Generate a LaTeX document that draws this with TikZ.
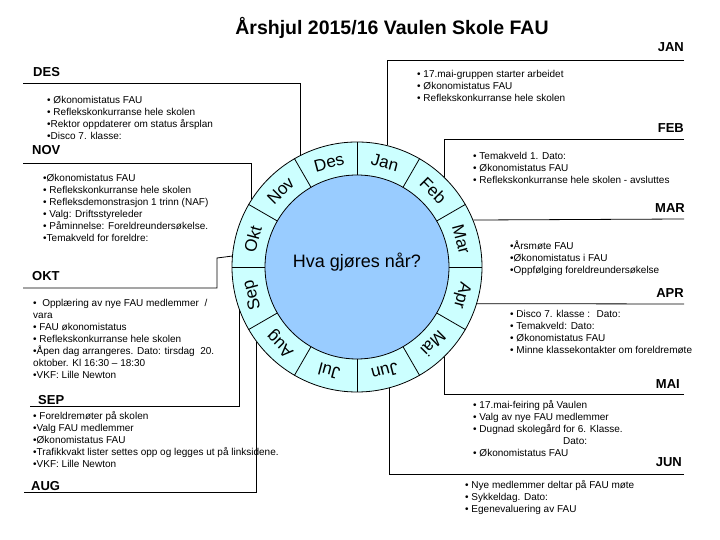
\documentclass[tikz,border=0pt]{standalone}
\usepackage{fontspec}
\setmainfont{Liberation Sans}
\usetikzlibrary{calc}
\definecolor{ring}{HTML}{CCFFFF}
\definecolor{hub}{HTML}{99CCFF}
\begin{document}
\begin{tikzpicture}[x=1pt, y=1pt,
  head/.style={inner sep=0pt, font=\fontsize{13}{13}\selectfont\bfseries},
  items/.style={inner sep=0pt, align=left, anchor=north west, font=\fontsize{10}{12}\selectfont},
  month/.style={inner sep=0pt, font=\fontsize{17}{17}\selectfont},
  link/.style={line width=0.8pt}]
\useasboundingbox (0,0) rectangle (720,540);
\node[anchor=base, font=\fontsize{19.5}{20}\selectfont\bfseries] (title) at (392,505) {Årshjul 2015/16 Vaulen Skole FAU};

% the wheel
\node[circle, draw, line width=0.8pt, fill=ring, minimum size=250, inner sep=0pt] (wheel) at (357,273) {};
\node[circle, draw, line width=0.8pt, fill=hub, minimum size=184, inner sep=0pt] (hub) at (wheel.center) {};
\foreach \a in {0,30,...,330}
  \draw[link] (hub.\a) -- (wheel.\a);
\foreach \m [count=\i] in {Jan,Feb,Mar,Apr,Mai,Jun,Jul,Aug,Sep,Okt,Nov,Des} {
  \pgfmathsetmacro\ang{105-30*\i}
  \pgfmathsetmacro\rot{\ang-90}
  \node[month, rotate=\rot] (m\i) at ($(wheel.center)+(\ang:108)$) {\m};
}
\node[font=\fontsize{18}{18}\selectfont] (q) at ([yshift=5]wheel.center) {Hva gjøres når?};

% left side
\node[head, anchor=base west] (des) at (33,463) {DES};
\coordinate (des-a) at (23,457);
\draw[link] (des-a) -| (wheel.117.1);
\node[items] (des-t) at (47,443.5) {• Økonomistatus FAU\\• Reflekskonkurranse hele skolen\\•Rektor oppdaterer om status årsplan\\•Disco 7. klasse:};

\node[head, anchor=base west] (nov) at (32,385) {NOV};
\coordinate (nov-a) at (23,377);
\draw[link] (nov-a) -| (wheel.147.1);
\node[items] (nov-t) at (43,365.5) {•Økonomistatus FAU\\• Reflekskonkurranse hele skolen\\• Refleksdemonstrasjon 1 trinn (NAF)\\• Valg: Driftsstyreleder\\• Påminnelse: Foreldreundersøkelse.\\•Temakveld for foreldre:};

\node[head, anchor=base west] (okt) at (32,259) {OKT};
\coordinate (okt-a) at (23,252);
\coordinate (okt-b) at (217,282);
\draw[link] (okt-a) -| (okt-b) -- (wheel.175.9);
\node[items] (okt-t) at (33,240.5) {•~ Opplæring av nye FAU medlemmer~ /\\vara\\• FAU økonomistatus\\• Reflekskonkurranse hele skolen\\•Åpen dag arrangeres. Dato: tirsdag~ 20.\\oktober. Kl 16:30 – 18:30\\•VKF: Lille Newton};

\node[head, anchor=base west] (sep) at (38,135) {SEP};
\coordinate (sep-a) at (30,134);
\draw[link] (sep-a) -| (wheel.200.6);
\node[items] (sep-t) at (33,128.5) {• Foreldremøter på skolen\\•Valg FAU medlemmer\\•Økonomistatus FAU\\•Trafikkvakt lister settes opp og legges ut på linksidene.\\•VKF: Lille Newton};

\node[head, anchor=base west] (aug) at (31,49) {AUG};
\coordinate (aug-a) at (24,48);
\draw[link] (aug-a) -| (wheel.217.6);

% right side
\node[head, anchor=base east] (jan) at (684,488) {JAN};
\coordinate (jan-a) at (684,480);
\draw[link] (jan-a) -| (wheel.76.1);
\node[items] (jan-t) at (417,469.5) {• 17.mai-gruppen starter arbeidet\\• Økonomistatus FAU\\• Reflekskonkurranse hele skolen};

\node[head, anchor=base east] (feb) at (684,407) {FEB};
\coordinate (feb-a) at (684,401);
\draw[link] (feb-a) -| (wheel.46.5);
\node[items] (feb-t) at (473,387.5) {• Temakveld 1. Dato:\\• Økonomistatus FAU\\• Reflekskonkurranse hele skolen - avsluttes};

\node[head, anchor=base east] (mar) at (685,327) {MAR};
\coordinate (mar-a) at (684,321);
\draw[link] (mar-a) -- (wheel.22.6);
\node[items] (mar-t) at (510,299) {•Årsmøte FAU\\•Økonomistatus i FAU\\•Oppfølging foreldreundersøkelse};

\node[head, anchor=base east] (apr) at (684,242) {APR};
\coordinate (apr-a) at (684,236);
\draw[link] (apr-a) -- (wheel.-17.2);
\node[items] (apr-t) at (510,229.5) {• Disco 7. klasse :~ Dato:\\• Temakveld: Dato:\\• Økonomistatus FAU\\• Minne klassekontakter om foreldremøte};

\node[head, anchor=base east] (mai) at (680,151) {MAI};
\coordinate (mai-a) at (684,146);
\draw[link] (mai-a) -| (wheel.-46.5);
\node[items] (mai-t) at (473,139.5) {• 17.mai-feiring på Vaulen\\• Valg av nye FAU medlemmer\\• Dugnad skolegård for 6. Klasse.\\\hspace*{90pt}Dato:\\• Økonomistatus FAU};

\node[head, anchor=base east] (jun) at (682,73) {JUN};
\coordinate (jun-a) at (684,66);
\draw[link] (jun-a) -| (wheel.-75.2);
\node[items] (jun-t) at (465,59.5) {• Nye medlemmer deltar på FAU møte\\• Sykkeldag. Dato:\\• Egenevaluering av FAU};
\end{tikzpicture}
\end{document}
